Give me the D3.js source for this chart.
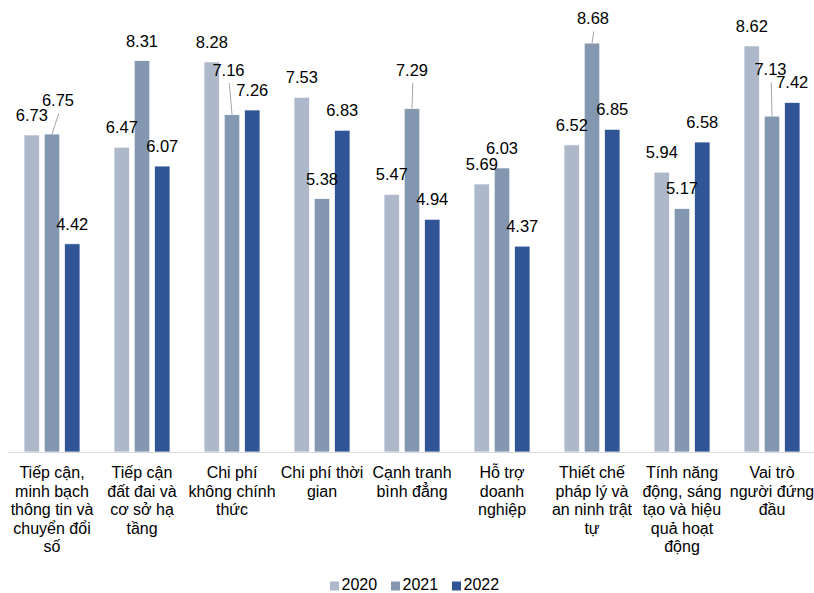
<!DOCTYPE html>
<html>
<head>
<meta charset="utf-8">
<script src="https://cdn.jsdelivr.net/npm/d3@7"></script>
<style>
  html, body { margin: 0; padding: 0; background: #fff; }
  svg { display: block; font-family: "Liberation Sans", Arial, sans-serif; }
</style>
</head>
<body>
<svg id="chart" width="814" height="593"></svg>
<script>
// Category names (line breaks mark where each axis label wraps)
const categories = [
  "Tiếp cận,\nminh bạch\nthông tin và\nchuyển đổi\nsố",
  "Tiếp cận\nđất đai và\ncơ sở hạ\ntầng",
  "Chi phí\nkhông chính\nthức",
  "Chi phí thời\ngian",
  "Cạnh tranh\nbình đẳng",
  "Hỗ trợ\ndoanh\nnghiệp",
  "Thiết chế\npháp lý và\nan ninh trật\ntự",
  "Tính năng\nđộng, sáng\ntạo và hiệu\nquả hoạt\nđộng",
  "Vai trò\nngười đứng\nđầu"
];

const seriesNames = ["2020", "2021", "2022"];
const values2020 = [6.73, 6.47, 8.28, 7.53, 5.47, 5.69, 6.52, 5.94, 8.62];
const values2021 = [6.75, 8.31, 7.16, 5.38, 7.29, 6.03, 8.68, 5.17, 7.13];
const values2022 = [4.42, 6.07, 7.26, 6.83, 4.94, 4.37, 6.85, 6.58, 7.42];
const seriesValues = [values2020, values2021, values2022];

const colors = ["#adb9ca", "#8497b0", "#2f5597"];

// Labels that are lifted off their bar and tied back with a leader line
const calloutNudges = {
  "0-1": [6, -14],
  "2-1": [-3.5, -25],
  "4-1": [0, -19],
  "6-1": [1, -5],
  "8-1": [-1.5, -27]
};

const svg = d3.select("#chart");

const x0 = d3.scaleBand()
  .domain(d3.range(categories.length))
  .range([7, 817])
  .paddingInner(0.378)
  .paddingOuter(0.189);

const x1 = d3.scaleBand()
  .domain(d3.range(seriesNames.length))
  .range([0, x0.bandwidth()])
  .paddingInner(0.23);

const y = d3.scaleLinear().domain([0, 9]).range([452, 28]);

const rows = categories.map((c, i) => ({
  i,
  items: seriesValues.map((vals, s) => ({ i, s, v: vals[i] }))
}));

// Bars
const groups = svg.append("g").selectAll("g")
  .data(rows)
  .join("g")
  .attr("transform", d => `translate(${x0(d.i)},0)`);

groups.selectAll("rect")
  .data(d => d.items)
  .join("rect")
  .attr("x", d => x1(d.s))
  .attr("y", d => y(d.v))
  .attr("width", x1.bandwidth())
  .attr("height", d => y(0) - y(d.v))
  .attr("fill", d => colors[d.s])
  .attr("stroke", "#ffffff")
  .attr("stroke-width", 0.75);

// Category axis
const xAxis = d3.axisBottom(x0).tickSize(0).tickFormat("");
const axisG = svg.append("g").attr("transform", `translate(0,${y(0)})`).call(xAxis);
axisG.select(".domain").attr("stroke", "#d9d9d9").attr("stroke-width", 1.2);

axisG.selectAll(".tick").each(function (d) {
  const lines = categories[d].split("\n");
  const t = d3.select(this).append("text")
    .attr("text-anchor", "middle")
    .attr("fill", "#000")
    .attr("font-size", 16)
    .attr("y", 26);
  lines.forEach((ln, k) => {
    t.append("tspan").attr("x", 0).attr("dy", k === 0 ? 0 : 18.6).text(ln);
  });
});

// Value labels
const labelLayer = svg.append("g");
rows.forEach(r => {
  r.items.forEach(d => {
    const cx = x0(d.i) + x1(d.s) + x1.bandwidth() / 2;
    const top = y(d.v);
    const nudge = calloutNudges[`${d.i}-${d.s}`] || [0, 0];
    const lx = cx + nudge[0];
    const ly = top - 14 + nudge[1];
    if (calloutNudges[`${d.i}-${d.s}`]) {
      labelLayer.append("line")
        .attr("x1", cx).attr("y1", top)
        .attr("x2", lx + 0.8).attr("y2", ly + 7.3)
        .attr("stroke", "#a6a6a6").attr("stroke-width", 1);
    }
    labelLayer.append("text")
      .attr("x", lx).attr("y", ly)
      .attr("text-anchor", "middle")
      .attr("font-size", 16.5)
      .attr("fill", "#000")
      .text(d3.format(".2f")(d.v));
  });
});

// Legend
const legend = svg.append("g").attr("transform", "translate(330,0)");
seriesNames.forEach((name, s) => {
  const g = legend.append("g").attr("transform", `translate(${s * 61},0)`);
  g.append("rect").attr("x", 0).attr("y", 581.5).attr("width", 9).attr("height", 9)
    .attr("fill", colors[s]);
  g.append("text").attr("x", 11.5).attr("y", 590)
    .attr("font-size", 16).attr("fill", "#000").text(name);
});
</script>
</body>
</html>
